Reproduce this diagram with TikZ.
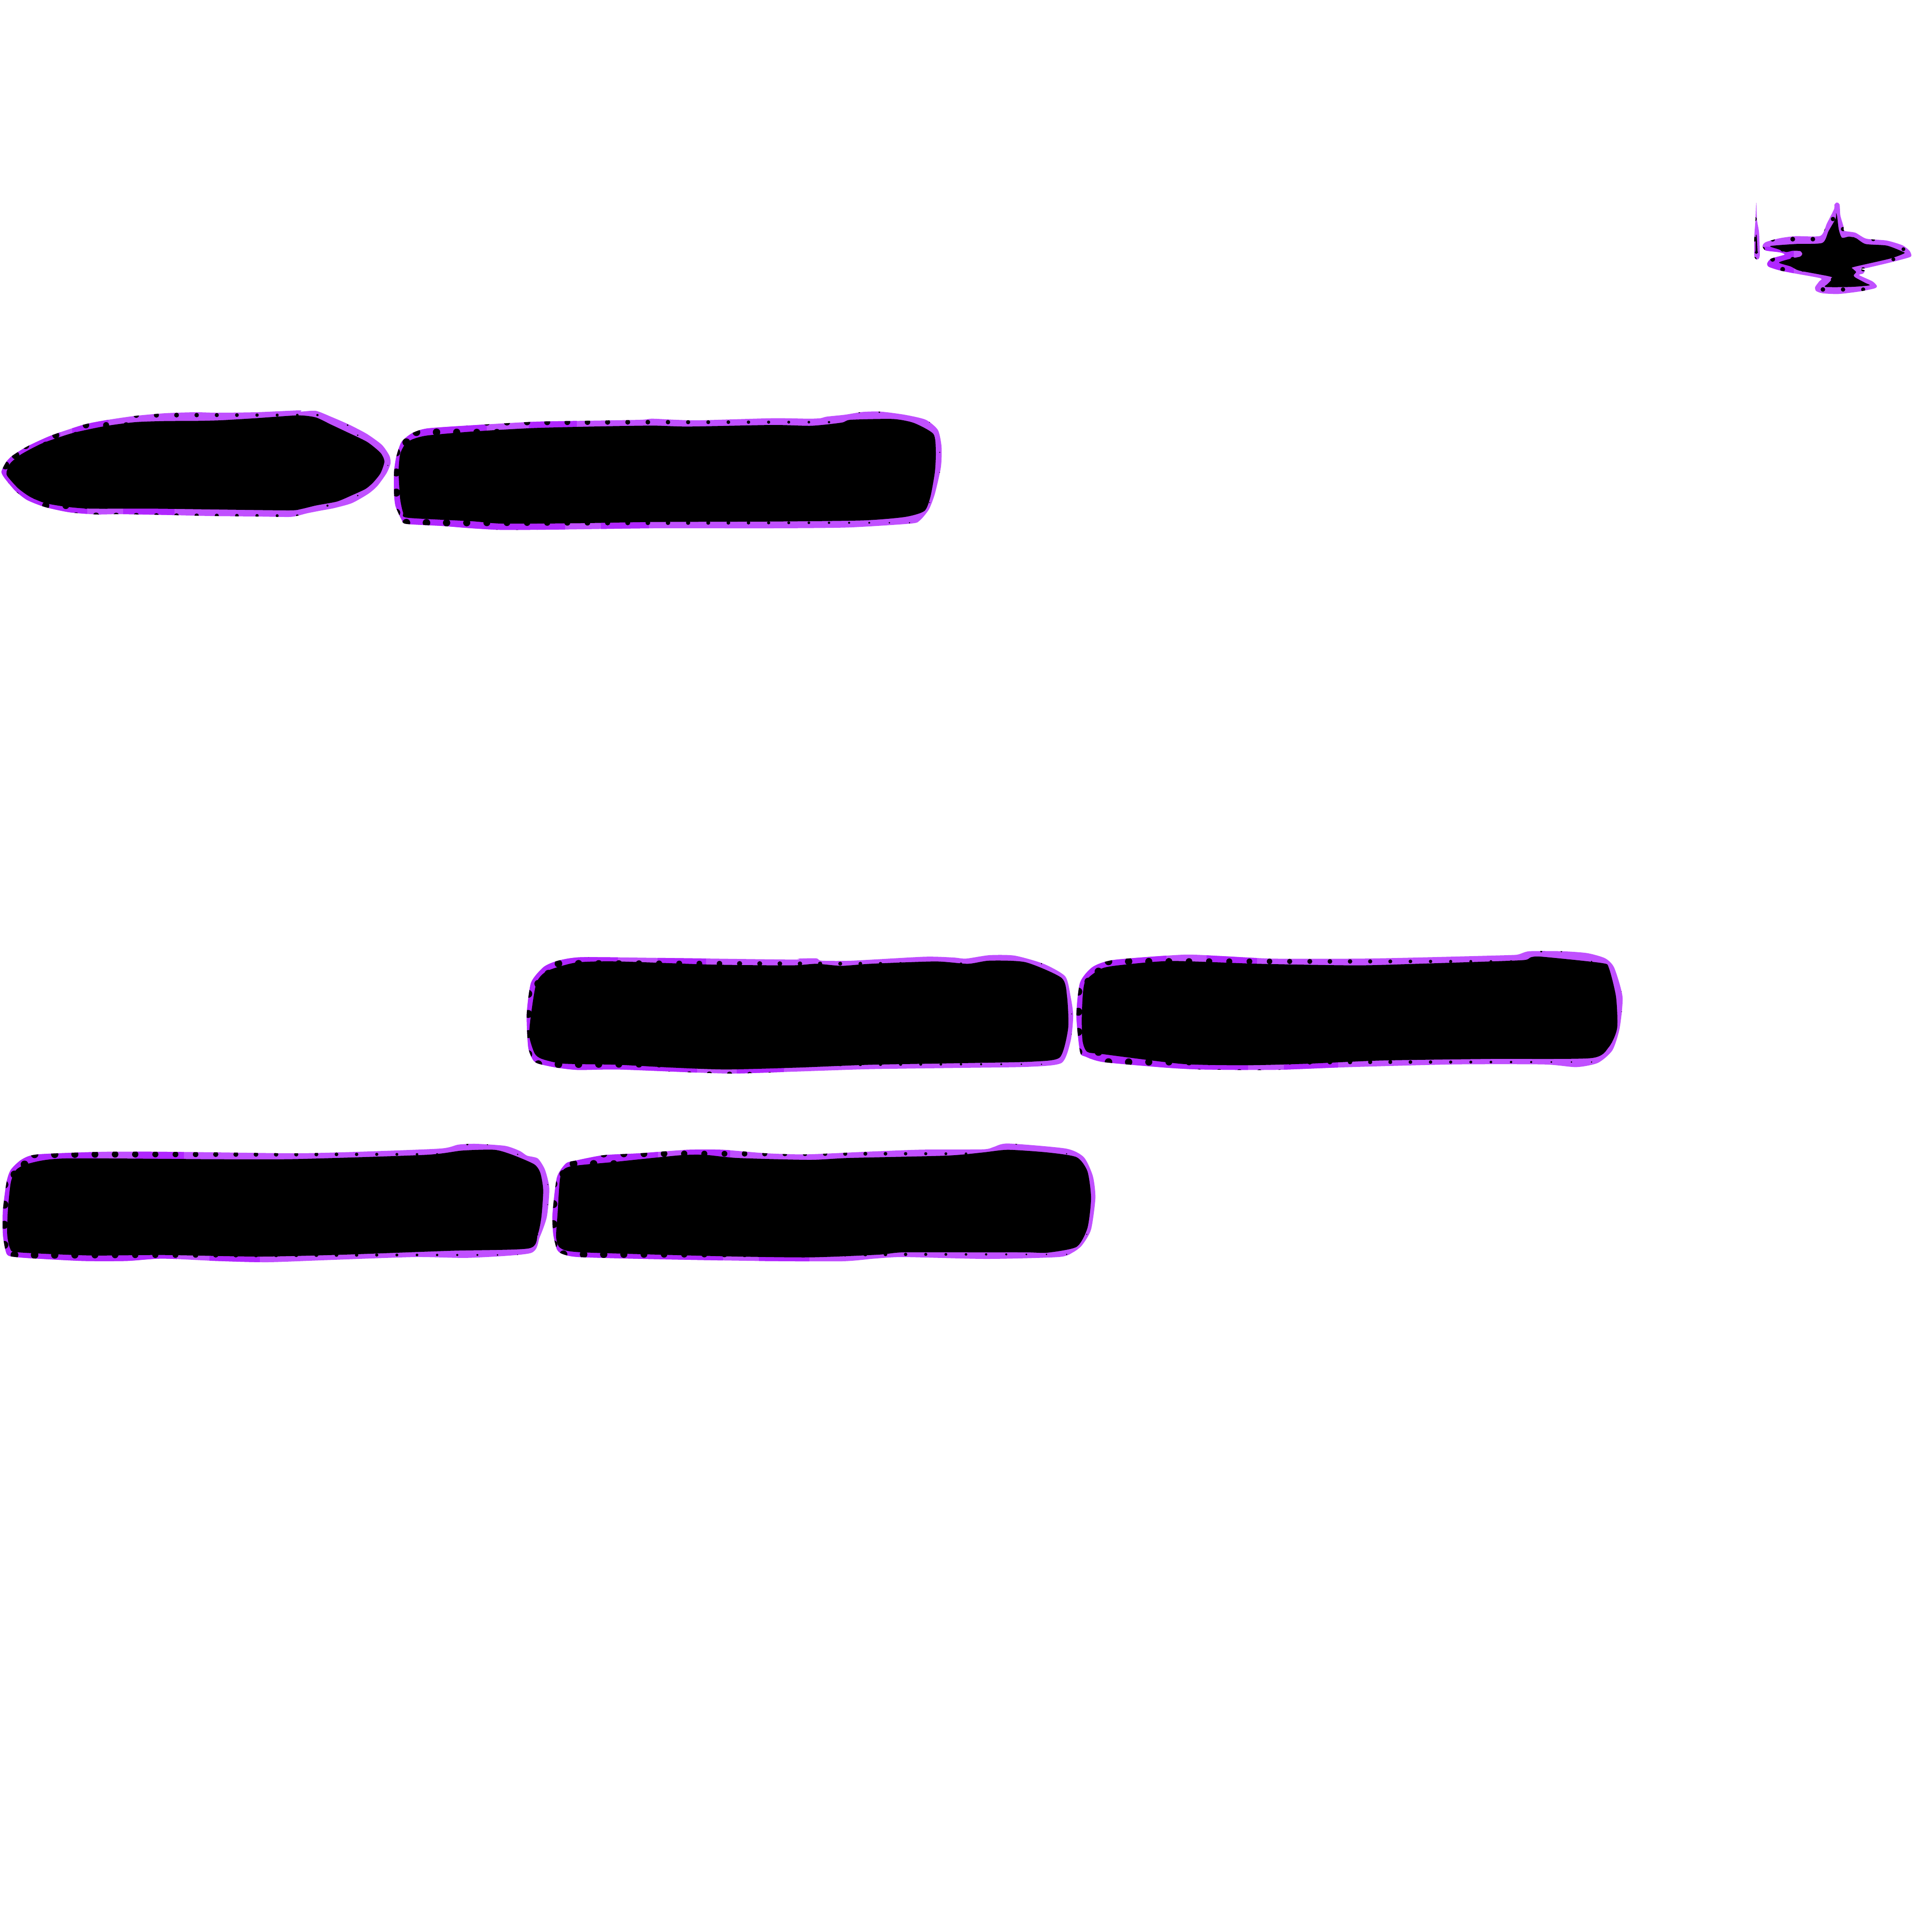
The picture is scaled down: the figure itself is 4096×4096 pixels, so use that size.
\documentclass[tikz,border=0pt]{standalone}
\usepackage{xcolor}
\usepackage{tikz}
\definecolor{bandlight}{HTML}{C050FF}
\definecolor{banddark}{HTML}{B026FF}
\tikzset{
    blobline/.style={smooth cycle, tension=0.4},
    blobzone/.style args={#1/#2/#3}{shift={(#1,#2)}, xscale=1/#3, yscale=1/3}
}
\newcommand{\darkpart}[4]{\fill[banddark] (#1,#3) rectangle (#2,#4);}
% anchor x, anchor y, left, right, biggest radius, smallest radius
\newcommand{\blobdots}[6]{
    \begin{scope}[reset cm]
        \pgfmathtruncatemacro{\colfirst}{round((#3-#1)/42.67)-1}
        \pgfmathtruncatemacro{\collast}{round((#4-#1)/42.67)+1}
        \foreach \row in {-5,...,12} {
            \foreach \col in {\colfirst,...,\collast} {
                \pgfmathsetmacro{\dotx}{#1+42.67*\col+21.33*mod(\row,2)}
                \pgfmathsetmacro{\doty}{#2+21.33*\row}
                \pgfmathsetmacro{\dotr}{max(#6,#6+(#5-#6)*(#4-\dotx)/(#4-#3))}
                \fill[black] (\dotx,\doty) circle[radius=\dotr];
            }
        }
    \end{scope}
}
% zone, outer points, inner points, dark parts and dots
\newcommand{\blob}[4]{
    \begin{scope}[blobzone=#1]
        \fill[bandlight] plot[blobline] coordinates {#2};
        \begin{scope}
            \clip plot[blobline] coordinates {#2};
            #4
        \end{scope}
        \fill[black] plot[blobline] coordinates {#3};
    \end{scope}
}
\begin{document}
\begin{tikzpicture}[x=0.01cm, y=-0.01cm]
    \useasboundingbox (0,0) rectangle (4096,4096);

    % upper left pair
    \blob{0/840/1.568}
        {(5,480)(20,420)(40,380)(90,320)(170,250)(280,180)(360,150)(450,125)(550,108)(650,102)(720,105)(850,102)(995,90)(1000,98)(1050,93)(1100,130)(1160,180)(1220,240)(1270,310)(1295,380)(1298,430)(1285,490)(1255,570)(1225,620)(1170,680)(1110,712)(1065,728)(1020,745)(990,760)(960,768)(850,765)(700,762)(550,755)(400,750)(320,752)(230,738)(150,705)(90,660)(50,600)(15,520)}
        {(22,480)(35,425)(70,370)(140,300)(240,235)(350,190)(450,165)(550,158)(650,157)(735,153)(850,140)(990,122)(1050,135)(1100,180)(1150,225)(1220,290)(1265,360)(1278,415)(1265,490)(1240,550)(1215,590)(1170,630)(1120,670)(1050,695)(1000,718)(960,726)(700,720)(500,715)(300,715)(220,703)(150,680)(100,640)(60,585)(25,510)}
        {\darkpart{0}{200}{0}{420}\darkpart{240}{360}{0}{420}\darkpart{0}{290}{420}{800}\darkpart{410}{580}{420}{800}
         \blobdots{331.6}{880}{0}{830}{8.5}{1}}
    \blob{1000/840/1.568}
        {(-258,480)(-250,380)(-233,290)(-198,235)(-148,205)(0,185)(200,163)(350,157)(560,150)(600,143)(680,150)(760,153)(1000,140)(1120,143)(1160,140)(1180,130)(1240,118)(1300,100)(1360,98)(1440,118)(1510,150)(1550,215)(1562,320)(1560,450)(1540,620)(1520,720)(1490,790)(1460,810)(1250,835)(1000,840)(600,840)(300,848)(100,850)(0,840)(-100,825)(-218,812)(-233,785)(-253,700)(-258,620)}
        {(-243,480)(-238,370)(-223,310)(-198,275)(-148,250)(0,225)(200,203)(400,193)(600,187)(720,193)(1000,183)(1130,188)(1230,168)(1260,150)(1400,145)(1470,170)(1535,240)(1543,350)(1540,480)(1525,640)(1505,730)(1440,768)(1300,790)(1000,797)(600,800)(350,808)(100,810)(0,795)(-213,773)(-228,740)(-238,650)}
        {\darkpart{-258}{50}{0}{500}\darkpart{190}{350}{0}{500}\darkpart{-258}{310}{500}{900}\darkpart{430}{590}{500}{900}
         \blobdots{1245.5}{895}{836}{1996}{8.5}{1}}

    % middle pair
    \blob{1080/1980/1.3067}
        {(48,510)(60,310)(95,210)(135,170)(200,148)(400,152)(780,163)(800,157)(850,155)(865,170)(950,170)(1150,145)(1230,150)(1265,157)(1330,135)(1400,138)(1480,190)(1540,270)(1555,400)(1562,520)(1555,680)(1530,820)(1440,845)(1250,852)(1000,860)(800,875)(620,888)(500,880)(300,862)(190,865)(130,850)(80,825)(65,800)(52,720)}
        {(60,510)(75,310)(105,235)(185,182)(300,175)(560,195)(780,200)(850,190)(920,203)(1000,190)(1180,175)(1270,190)(1330,170)(1430,180)(1530,280)(1545,400)(1548,600)(1525,785)(1450,812)(1300,820)(1000,832)(800,850)(600,862)(450,850)(300,832)(150,825)(90,795)(70,760)(55,650)}
        {\darkpart{0}{300}{0}{500}\darkpart{410}{545}{0}{500}\darkpart{0}{520}{500}{900}\darkpart{630}{760}{500}{900}
         \blobdots{1525.3}{2043}{1116}{2276}{8.5}{1}}
    \blob{2240/1980/1.3067}
        {(55,520)(65,310)(100,210)(160,165)(350,132)(450,140)(600,157)(840,157)(1000,150)(1250,135)(1280,130)(1310,110)(1400,110)(1470,122)(1520,155)(1545,215)(1568,400)(1560,600)(1540,740)(1500,820)(1440,847)(1350,830)(1100,830)(800,848)(600,865)(400,862)(300,850)(130,815)(80,780)(65,750)}
        {(70,520)(78,310)(125,220)(190,195)(320,172)(560,190)(830,200)(1000,190)(1240,172)(1300,165)(1315,148)(1345,145)(1510,185)(1530,215)(1550,400)(1553,600)(1530,720)(1480,790)(1200,795)(900,805)(700,825)(530,835)(350,827)(130,765)(85,750)(72,680)}
        {\darkpart{0}{305}{0}{500}\darkpart{415}{555}{0}{500}\darkpart{0}{530}{500}{900}\darkpart{630}{780}{500}{900}
         \blobdots{2691.5}{2038.3}{2282}{3440}{8.5}{1}}

    % lower pair
    \blob{0/2390/1.3067}
        {(8,530)(18,350)(30,270)(60,205)(105,172)(300,155)(520,157)(820,165)(1000,155)(1220,135)(1270,110)(1320,105)(1400,118)(1440,150)(1460,180)(1490,198)(1510,270)(1522,390)(1515,570)(1495,700)(1470,800)(1300,830)(1150,825)(900,845)(740,858)(600,850)(450,835)(350,850)(230,850)(80,832)(25,818)(15,780)(8,680)}
        {(22,520)(30,350)(45,270)(80,230)(180,198)(600,203)(820,202)(1180,175)(1280,148)(1370,143)(1420,175)(1480,235)(1497,290)(1505,400)(1500,570)(1490,680)(1465,770)(1250,785)(950,810)(720,822)(450,812)(250,815)(50,795)(28,770)(20,680)}
        {\darkpart{0}{270}{0}{500}\darkpart{375}{510}{0}{500}\darkpart{0}{490}{500}{900}\darkpart{580}{720}{500}{900}
         \blobdots{414.7}{2447.3}{6}{1165}{8.5}{1}}
    \blob{1150/2390/1.3067}
        {(28,550)(40,320)(65,230)(95,210)(170,177)(270,165)(400,143)(500,143)(620,165)(730,172)(900,155)(1050,142)(1220,140)(1250,125)(1290,103)(1450,135)(1500,190)(1525,310)(1532,450)(1520,650)(1495,750)(1470,795)(1430,825)(1230,837)(1000,825)(920,835)(830,852)(600,850)(300,838)(100,825)(55,805)(40,775)(30,680)}
        {(42,550)(50,310)(75,250)(200,220)(380,178)(450,175)(540,195)(740,207)(850,195)(1120,180)(1220,160)(1290,143)(1400,160)(1480,190)(1510,280)(1520,450)(1510,640)(1480,760)(1400,797)(1340,795)(1200,795)(1000,795)(930,810)(740,827)(500,820)(110,795)(50,768)(38,700)}
        {\darkpart{0}{320}{0}{500}\darkpart{390}{520}{0}{500}\darkpart{0}{500}{500}{900}\darkpart{600}{740}{500}{900}
         \blobdots{1578.6}{2446}{1170}{2324}{8.5}{1}}

    % bar and plane at the top right
    \blob{3640/400/3}
        {(250,88)(255,200)(268,280)(272,430)(255,450)(238,430)(238,300)(245,200)}
        {(247,300)(253,300)(258,395)(262,405)(250,415)(240,405)(245,395)}
        {\blobdots{3719}{507}{3700}{4060}{5.5}{4}}
    \blob{3640/400/3}
        {(290,365)(310,340)(400,315)(500,302)(658,300)(700,220)(745,130)(748,100)(763,88)(780,100)(785,170)(805,240)(810,268)(880,280)(950,318)(1080,330)(1180,360)(1225,395)(1237,425)(1220,438)(1100,470)(950,505)(910,510)(940,520)(930,540)(905,550)(990,590)(1018,620)(1000,635)(900,655)(770,670)(670,665)(630,650)(625,625)(650,590)(660,570)(500,540)(400,520)(330,497)(320,475)(345,445)(430,420)(400,405)(310,393)}
        {(340,365)(500,352)(670,345)(710,270)(755,190)(758,155)(765,180)(775,260)(795,312)(840,305)(885,315)(945,352)(1080,362)(1180,400)(1190,412)(1100,445)(870,498)(865,510)(885,530)(870,550)(880,565)(945,600)(970,615)(850,625)(690,625)(705,605)(735,565)(650,545)(520,520)(470,495)(395,470)(470,445)(530,432)(543,415)(530,397)(480,395)(440,403)(390,385)}
        {\darkpart{300}{490}{370}{540}
         \blobdots{3800.7}{507}{3700}{4060}{5.5}{4}}
\end{tikzpicture}
\end{document}
